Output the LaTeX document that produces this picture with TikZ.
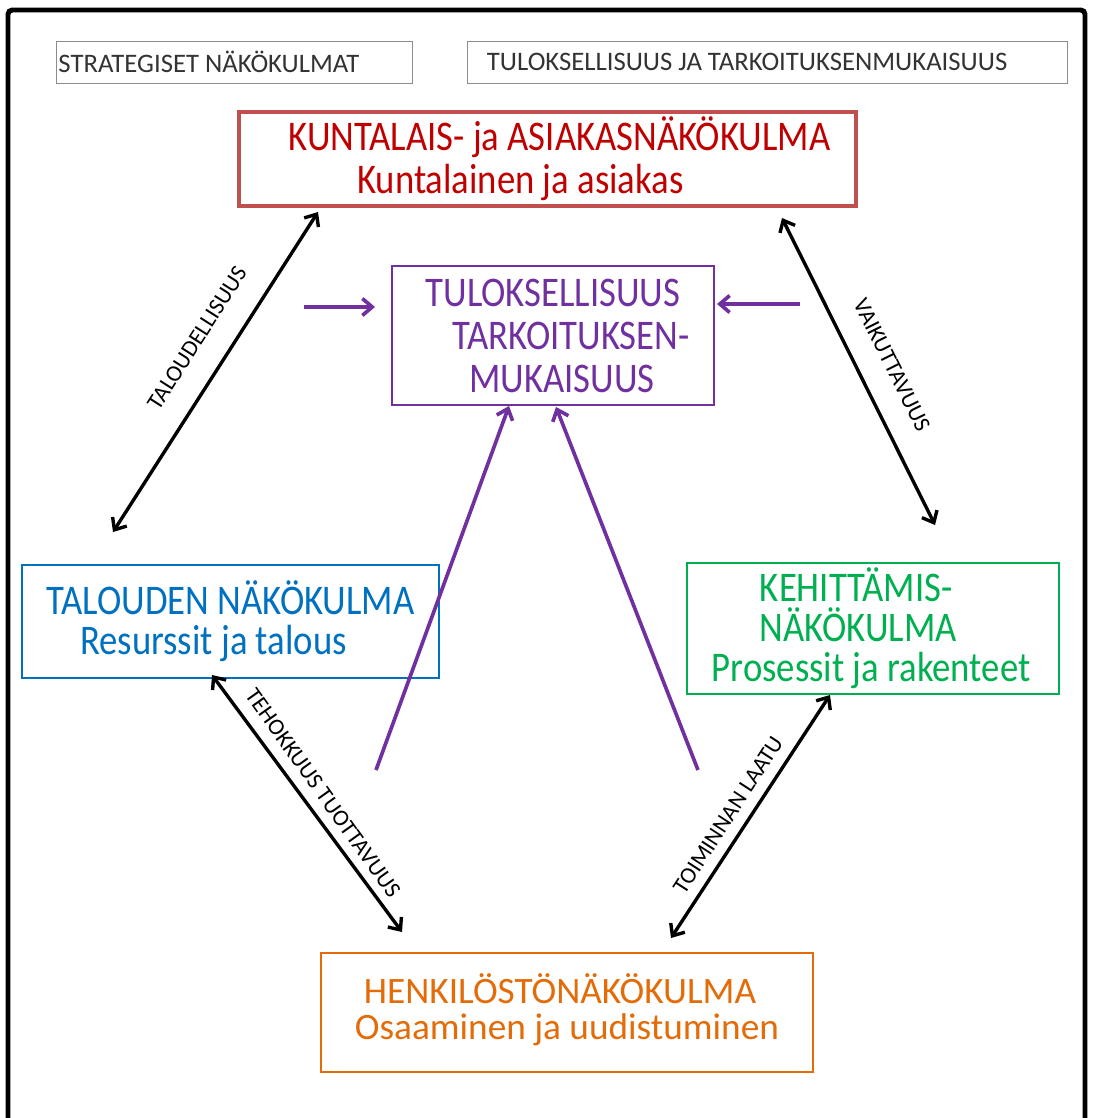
\documentclass[tikz,border=0pt]{standalone}
\usepackage{fontspec}
\setmainfont{Carlito}
\newfontfamily\bigfont{Carlito}[FakeStretch=0.87]
\usetikzlibrary{positioning,arrows.meta}
\definecolor{kred}{HTML}{C0504D}
\definecolor{ktext}{HTML}{C00000}
\definecolor{kpurple}{HTML}{7030A0}
\definecolor{kblue}{HTML}{0070C0}
\definecolor{kgreen}{HTML}{00B050}
\definecolor{korange}{HTML}{E36C09}

\begin{document}
\begin{tikzpicture}[x=0.025cm, y=-0.025cm,
frame/.style={line width=3.5pt, rounded corners=3pt},
head/.style={rectangle, draw=black!45, line width=0.7pt, minimum height=1.05cm, inner ysep=0pt, align=flush left, text=black!80, font=\fontsize{19}{22}\selectfont},
view/.style={rectangle, align=flush center, inner sep=0pt, font=\bigfont\fontsize{30}{30.6}\selectfont},
link/.style={line width=2.4pt, {Straight Barb[length=7pt,width=12pt]}-{Straight Barb[length=7pt,width=12pt]}},
feed/.style={line width=2.6pt, kpurple, -{Straight Barb[length=7pt,width=12pt]}},
lbl/.style={inner sep=0pt, font=\fontsize{16.5}{18}\selectfont},
]
\useasboundingbox (0,0) rectangle (1093,1118);
\draw[frame] (8,1130) -- (8,10) -- (1085,10) -- (1085,1130);

\node[head, text width=8.8cm, inner xsep=1.1pt] (strat) at (234.5,62) {STRATEGISET NÄKÖKULMAT};
\node[head, text width=14.025cm, inner xsep=0.475cm] (otsikko) at (767.5,62) {TULOKSELLISUUS JA TARKOITUKSENMUKAISUUS};

\node[view, draw=kred, line width=2.8pt, text=ktext, minimum width=15.43cm, minimum height=2.35cm] (kunta) at (547.5,159) {\hspace*{0.6cm}KUNTALAIS- ja ASIAKASNÄKÖKULMA\\Kuntalainen ja asiakas\hspace*{1.35cm}};
\node[view, draw=kpurple, line width=1.3pt, text=kpurple, minimum width=8.05cm, minimum height=3.475cm] (tulos) at (553,335.5) {TULOKSELLISUUS\\\hspace*{0.9cm}TARKOITUKSEN-\\\hspace*{0.45cm}MUKAISUUS};
\node[view, draw=kblue, line width=1.1pt, text=kblue, minimum width=10.425cm, minimum height=2.825cm, font=\bigfont\fontsize{30}{28.5}\selectfont] (talous) at (230.5,621.5) {TALOUDEN NÄKÖKULMA\\Resurssit ja talous\hspace*{0.85cm}};
\node[view, draw=kgreen, line width=1.1pt, text=kgreen, align=flush left, text width=8.05cm, inner xsep=0.625cm, minimum height=3.275cm, font=\bigfont\fontsize{30}{28.5}\selectfont] (kehitys) at (873,628.5) {\hspace*{1.2cm}KEHITTÄMIS-\\\hspace*{1.2cm}NÄKÖKULMA\\Prosessit ja rakenteet};
\node[view, draw=korange, line width=1.3pt, text=korange, minimum width=12.3cm, minimum height=2.975cm, font=\fontsize{26.5}{25}\selectfont] (henki) at (567,1012.5) {HENKILÖSTÖNÄKÖKULMA\hspace*{0.35cm}\\Osaaminen ja uudistuminen\rule[-0.3cm]{0pt}{0pt}};

\coordinate (k1) at (318,212);
\coordinate (t1) at (113,532);
\coordinate (k2) at (782,218);
\coordinate (v1) at (935,525);
\coordinate (t2) at (212,675);
\coordinate (h1) at (402,932);
\coordinate (e1) at (830,695);
\coordinate (h2) at (671,938);
\draw[link] (t1) -- (k1);
\draw[link] (k2) -- (v1);
\draw[link] (t2) -- (h1);
\draw[link] (h2) -- (e1);

\coordinate (p1) at (304,307);
\coordinate (p2) at (800,304);
\coordinate (p3) at (376,770);
\coordinate (p4) at (698,770);
\draw[feed] (p1) -- (375,307);
\draw[feed] (p2) -- (717,304);
\draw[feed] (p3) -- (509,406);
\draw[feed] (p4) -- (556,407);

\node[lbl, rotate=57.4] (taloudellisuus) at (197,338) {TALOUDELLISUUS};
\node[lbl, rotate=-63.5] (vaikuttavuus) at (892,365) {VAIKUTTAVUUS};
\node[lbl, rotate=-54.5] (tehokkuus) at (323,793) {TEHOKKUUS TUOTTAVUUS};
\node[lbl, rotate=57] (laatu) at (728,815) {TOIMINNAN LAATU};
\end{tikzpicture}
\end{document}
